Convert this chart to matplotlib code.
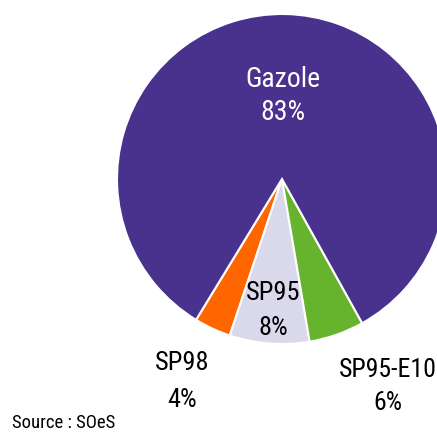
import matplotlib
matplotlib.use("Agg")
import matplotlib.pyplot as plt

# part de chaque carburant (mesurée sur le graphique)
carburants = ['SP98', 'SP95', 'SP95-E10', 'Gazole']
parts = [3.6, 7.8, 5.4, 83.2]
etiquettes = ['4%', '8%', '6%', '83%']
couleurs = ['#FF6600', '#DAD8EB', '#66B42E', '#48328E']

plt.rcParams['font.family'] = ['Roboto Condensed', 'DejaVu Sans']

W, H = 437, 432
fig = plt.figure(figsize=(W / 100, H / 100), dpi=100)
ax = fig.add_axes([0, 0, 1, 1])

centre = (282, H - 179)
ax.pie(parts, colors=couleurs, startangle=238.6, counterclock=True,
       center=centre, radius=165,
       wedgeprops=dict(edgecolor='white', linewidth=1.5))
ax.set_xlim(0, W)
ax.set_ylim(0, H)
ax.set_aspect('equal')
ax.axis('off')

# x, ligne de base du nom, ligne de base du %, couleur, taille (pixels image)
pos = {'Gazole': (283, 87, 120, 'white', 20),
       'SP95': (273, 300, 335, 'black', 19),
       'SP98': (182, 370, 407, 'black', 19),
       'SP95-E10': (388, 377, 410, 'black', 18.5)}
for nom, lab in zip(carburants, etiquettes):
    x, y1, y2, c, t = pos[nom]
    ax.text(x, H - y1, nom, ha='center', va='baseline', color=c, fontsize=t)
    ax.text(x, H - y2, lab, ha='center', va='baseline', color=c, fontsize=t)

ax.text(12, H - 428, 'Source : SOeS', ha='left', va='baseline', fontsize=13.5)

fig.savefig('out.png', dpi=100)
